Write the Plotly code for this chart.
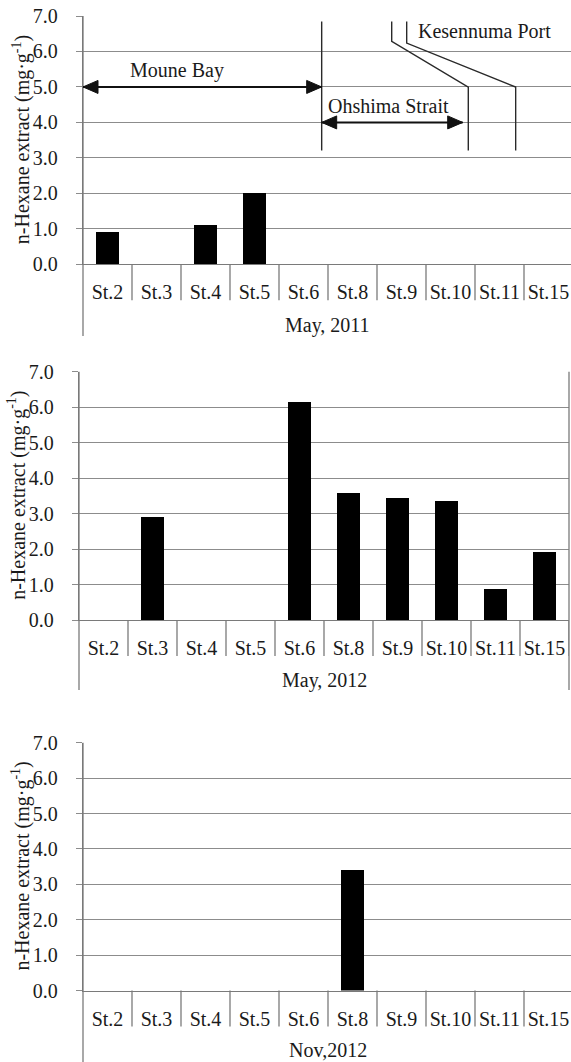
import plotly.graph_objects as go

# Station categories and n-Hexane extract values (mg/g); None = no bar
stations = ["St.2", "St.3", "St.4", "St.5", "St.6", "St.8", "St.9", "St.10", "St.11", "St.15"]
may_2011 = [0.9, None, 1.1, 2.0, None, None, None, None, None, None]
may_2012 = [None, 2.9, None, None, 6.15, 3.6, 3.45, 3.35, 0.88, 1.93]
nov_2012 = [None, None, None, None, None, 3.4, None, None, None, None]
period_labels = ["May, 2011", "May, 2012", "Nov,2012"]
y_ticks = [0, 1, 2, 3, 4, 5, 6, 7]

W, H = 571, 1062
FONT = "Liberation Serif, Times New Roman, serif"
GRID = "#8c8c8c"
AXIS = "#7a7a7a"
TEXT = "#1a1a1a"
FS = 20

positions = list(range(len(stations)))
series = [may_2011, may_2012, nov_2012]

# pixel geometry of each panel: plot box, axis extension and labels
panels = [
    dict(left=83, right=573, top=16, bottom=264.3, ext=336, label_y=325, title_x=21),
    dict(left=79, right=569, top=371.7, bottom=620, ext=690, label_y=680, title_x=17),
    dict(left=83, right=573, top=742.7, bottom=990.5, ext=1062, label_y=1050, title_x=21),
]

fig = go.Figure()
shapes = []
annotations = []
layout_axes = {}

for i, (p, vals) in enumerate(zip(panels, series)):
    n = "" if i == 0 else str(i + 1)
    cell = (p["right"] - p["left"]) / len(stations)
    vis_right = min(p["right"], W)
    x_end = -0.5 + (vis_right - p["left"]) / cell

    fig.add_trace(go.Bar(
        x=positions, y=vals, width=0.48,
        marker=dict(color="black", line=dict(width=0)),
        xaxis="x" + n, yaxis="y" + n, showlegend=False,
    ))

    layout_axes["xaxis" + n] = dict(
        domain=[p["left"] / W, vis_right / W], anchor="y" + n,
        range=[-0.5, x_end], tickmode="array", tickvals=positions, ticktext=stations,
        showgrid=False, zeroline=False, showline=True, linecolor=AXIS, linewidth=1.3,
        ticks="", ticklabelstandoff=10, automargin=False,
        tickfont=dict(family=FONT, size=FS, color=TEXT),
    )
    layout_axes["yaxis" + n] = dict(
        domain=[1 - p["bottom"] / H, 1 - p["top"] / H], anchor="x" + n,
        range=[0, 7], tickmode="array", tickvals=y_ticks,
        ticktext=[f"{v:.1f}" for v in y_ticks],
        showgrid=True, gridcolor=GRID, gridwidth=1.3, zeroline=False,
        showline=True, linecolor=AXIS, linewidth=1.3,
        ticks="outside", ticklen=6, tickcolor=GRID, tickwidth=1.3,
        ticklabelstandoff=14, automargin=False,
        tickfont=dict(family=FONT, size=FS, color=TEXT),
    )

    # category dividers below the baseline
    for k in range(1, len(stations) + 1):
        shapes.append(dict(
            type="line", xref="x" + n, yref="paper",
            x0=k - 0.5, x1=k - 0.5,
            y0=1 - p["bottom"] / H, y1=1 - (p["bottom"] + 36) / H,
            line=dict(color=AXIS, width=1.3),
        ))
    # value axis continued down past the category labels
    shapes.append(dict(
        type="line", xref="paper", yref="paper",
        x0=p["left"] / W, x1=p["left"] / W,
        y0=1 - p["top"] / H, y1=1 - p["ext"] / H,
        line=dict(color=AXIS, width=1.3),
    ))
    if p["right"] <= W:
        shapes.append(dict(
            type="line", xref="paper", yref="paper",
            x0=p["right"] / W, x1=p["right"] / W,
            y0=1 - p["top"] / H, y1=1 - p["ext"] / H,
            line=dict(color=AXIS, width=1.3),
        ))

    annotations.append(dict(
        text=period_labels[i], xref="paper", yref="paper",
        x=(p["left"] + p["right"]) / 2 / W, y=1 - p["label_y"] / H,
        xanchor="center", yanchor="middle", showarrow=False,
        font=dict(family=FONT, size=FS, color=TEXT),
    ))
    annotations.append(dict(
        text="n-Hexane extract (mg·g<sup>-1</sup>)", textangle=-90,
        xref="paper", yref="paper",
        x=p["title_x"] / W, y=1 - (p["top"] + p["bottom"]) / 2 / H,
        xanchor="center", yanchor="middle", showarrow=False,
        font=dict(family=FONT, size=FS, color=TEXT),
    ))

# sea-area markers on the first panel
LINE = "#2a2a2a"
ARROW = "#111111"
shapes += [
    dict(type="line", xref="x", yref="y", x0=4.371, x1=4.371, y0=3.206, y1=6.847,
         line=dict(color=LINE, width=1.4)),
    dict(type="path", xref="x", yref="y",
         path="M5.80,6.847 L5.80,6.283 L7.363,4.996 L7.363,3.206",
         line=dict(color=LINE, width=1.4)),
    dict(type="path", xref="x", yref="y",
         path="M6.106,6.847 L6.106,6.238 L8.33,4.996 L8.33,3.206",
         line=dict(color=LINE, width=1.4)),
]


def double_arrow(x_from, x_to, y):
    """Horizontal two-headed arrow between two x positions at height y."""
    head_l = "M0,0 L15,6.5 L15,-6.5 Z"
    head_r = "M0,0 L-15,6.5 L-15,-6.5 Z"
    return [
        dict(type="line", xref="x", yref="y", x0=x_from, x1=x_to, y0=y, y1=y,
             line=dict(color=ARROW, width=2)),
        dict(type="path", xref="x", yref="y", xsizemode="pixel", ysizemode="pixel",
             xanchor=x_from, yanchor=y, path=head_l,
             fillcolor=ARROW, line=dict(color=ARROW, width=1)),
        dict(type="path", xref="x", yref="y", xsizemode="pixel", ysizemode="pixel",
             xanchor=x_to, yanchor=y, path=head_r,
             fillcolor=ARROW, line=dict(color=ARROW, width=1)),
    ]


shapes += double_arrow(-0.5, 4.371, 5.0)
shapes += double_arrow(4.371, 7.249, 4.0)

annotations += [
    dict(text="Moune Bay", x=1.418, y=5.46, xref="x", yref="y", showarrow=False,
         font=dict(family=FONT, size=FS, color=TEXT)),
    dict(text="Ohshima Strait", x=5.73, y=4.46, xref="x", yref="y", showarrow=False,
         font=dict(family=FONT, size=FS, color=TEXT)),
    dict(text="Kesennuma Port", x=7.70, y=6.565, xref="x", yref="y", showarrow=False,
         font=dict(family=FONT, size=FS, color=TEXT)),
]

fig.update_layout(
    width=W, height=H, margin=dict(l=0, r=0, t=0, b=0, pad=0),
    paper_bgcolor="white", plot_bgcolor="white",
    showlegend=False, bargap=0,
    shapes=shapes, annotations=annotations,
    font=dict(family=FONT, size=FS, color=TEXT),
    **layout_axes,
)

fig.write_html("out.html", post_script="document.body.style.margin='0';")
